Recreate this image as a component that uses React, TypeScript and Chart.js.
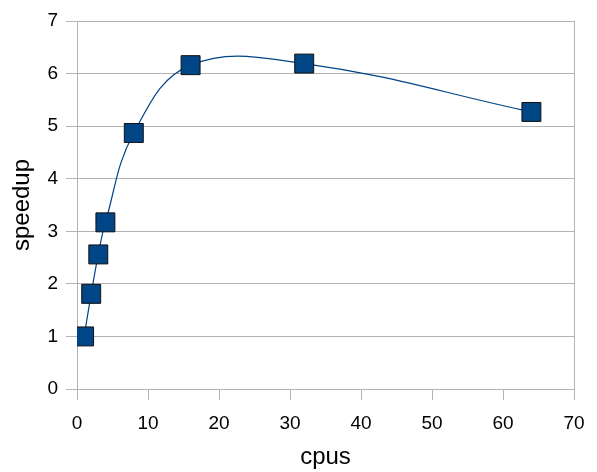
import React, { useEffect, useRef } from "react";
import { Chart, registerables } from "chart.js";

Chart.register(...registerables);

const cpus = [1, 2, 3, 4, 8, 16, 32, 64];
const speedup = [1.0, 1.81, 2.56, 3.17, 4.87, 6.16, 6.19, 5.27];
const xTitle = "cpus";
const yTitle = "speedup";

const GRID = "#b3b3b3";
const BLUE = "#004586";

export default function App() {
  const ref = useRef<HTMLCanvasElement | null>(null);

  useEffect(() => {
    document.body.style.margin = "0";
    const canvas = ref.current;
    if (!canvas) return;
    const chart = new Chart(canvas, {
      type: "line",
      data: {
        datasets: [
          {
            data: cpus.map((c, i) => ({ x: c, y: speedup[i] })),
            borderColor: BLUE,
            borderWidth: 1.2,
            backgroundColor: BLUE,
            tension: 0.4,
            pointStyle: "rect",
            pointRadius: 13.4,
            pointHoverRadius: 13.4,
            pointBackgroundColor: BLUE,
            pointBorderColor: "#111",
            pointBorderWidth: 1,
          },
        ],
      },
      options: {
        animation: false,
        responsive: true,
        maintainAspectRatio: false,
        layout: { padding: { top: 21, right: 23, left: 0, bottom: 0 } },
        plugins: { legend: { display: false }, tooltip: { enabled: false } },
        scales: {
          x: {
            type: "linear",
            min: 0,
            max: 70,
            afterFit: (s: any) => {
              s.height = 83;
            },
            ticks: {
              stepSize: 10,
              color: "#000",
              font: { family: "Liberation Sans", size: 19 },
              padding: 12,
              maxRotation: 0,
            },
            grid: {
              color: (ctx: any) =>
                ctx.tick && ctx.tick.value === 70 ? GRID : "rgba(0,0,0,0)",
              tickColor: GRID,
              tickLength: 11,
              lineWidth: 1,
            },
            border: { display: true, color: GRID },
            title: {
              display: true,
              text: xTitle,
              color: "#000",
              font: { family: "Liberation Sans", size: 24 },
              padding: { top: 0, bottom: 0 },
            },
          },
          y: {
            min: 0,
            max: 7,
            afterFit: (s: any) => {
              s.width = 77;
            },
            ticks: {
              stepSize: 1,
              color: "#000",
              font: { family: "Liberation Sans", size: 19 },
              padding: 8,
            },
            grid: { color: GRID, tickColor: GRID, tickLength: 11, lineWidth: 1 },
            border: { display: true, color: GRID },
            title: {
              display: true,
              text: yTitle,
              color: "#000",
              font: { family: "Liberation Sans", size: 24 },
              padding: { top: 8, bottom: 0 },
            },
          },
        },
      },
    });
    return () => chart.destroy();
  }, []);

  return (
    <div style={{ position: "absolute", left: 0, top: 0, width: 597, height: 472, background: "#fff" }}>
      <canvas ref={ref} />
    </div>
  );
}
